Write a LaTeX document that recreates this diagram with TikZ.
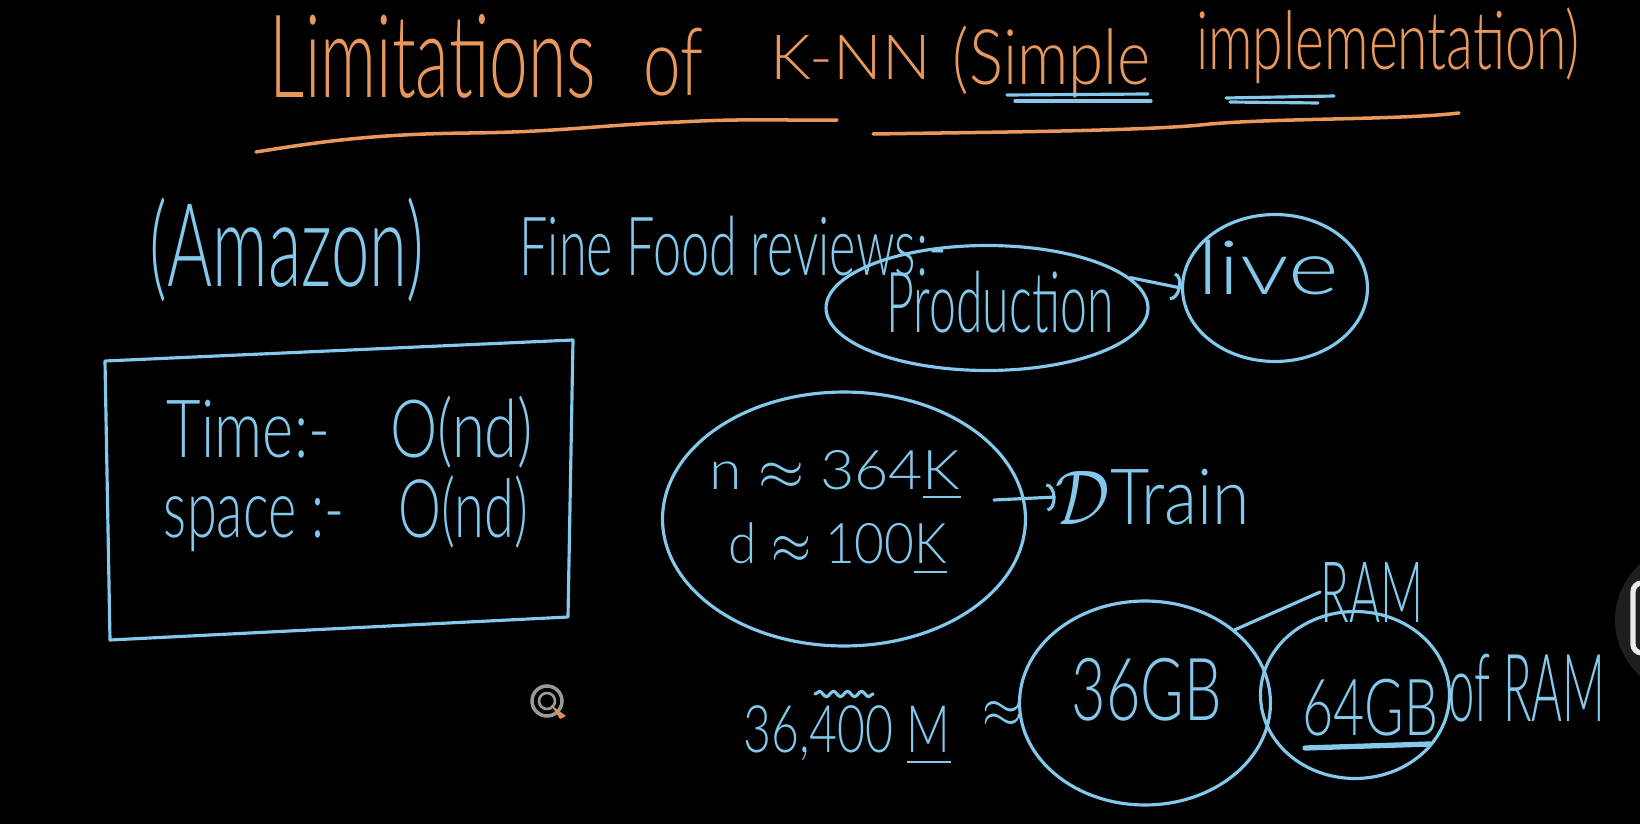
\documentclass[tikz,border=0pt]{standalone}
\usepackage{graphicx}
\usepackage{fontspec}
\setmainfont{Lato Light}
\usetikzlibrary{shapes.geometric,arrows.meta,decorations.pathmorphing}
\definecolor{orng}{RGB}{232,152,92}
\definecolor{blu}{RGB}{132,200,236}
\newlength\pxu
\setlength\pxu{0.02cm}
% width and total height, in px of the 1640x824 canvas
\newcommand\fitwh[3]{\resizebox*{#1\pxu}{#2\pxu}{#3}}
\tikzset{
  txt/.style={text=blu, inner sep=0pt},
  ttxt/.style={text=orng, inner sep=0pt},
  bline/.style={draw=blu, line width=1.8pt, line cap=round, line join=round},
  oline/.style={draw=orng, line width=2pt, line cap=round, line join=round},
  ell/.style={ellipse, draw=blu, line width=1.8pt, inner sep=0pt},
  barr/.style={bline, -{Arc Barb[length=5pt,width=16pt]}},
}
\begin{document}
\begin{tikzpicture}[x=0.02cm,y=-0.02cm]
\clip (0,0) rectangle (1640,824);
\fill[black] (0,0) rectangle (1640,824);
\useasboundingbox (0,0) rectangle (1640,824);

% title
\node[ttxt] (t1) at (433,56) {\fitwh{326}{84}{Limitations}};
\node[ttxt] (t2) at (673,62) {\fitwh{60}{68}{of}};
\node[ttxt] (t3) at (851,58) {\fitwh{160}{44}{K-NN}};
\node[ttxt] (t4) at (1052,62) {\fitwh{198}{72}{(Simple}};
\node[ttxt] (t5) at (1388,46) {\fitwh{384}{76}{implementation)}};
\draw[oline] (256,152) .. controls (330,140) and (380,134) .. (470,133) .. controls (560,132) and (600,125) .. (680,122) .. controls (750,118) and (800,121) .. (837,120);
\draw[oline] (873,134) .. controls (1000,132) and (1150,131) .. (1210,124) .. controls (1280,118) and (1400,120) .. (1459,113);
\draw[bline] (1007,95) -- (1148,94);
\draw[bline] (1015,101) -- (1151,101);
\draw[bline] (1226,98) -- (1334,96);
\draw[bline] (1230,102) -- (1318,103);

% top row
\node[txt] (amazon) at (287,250) {\fitwh{274}{104}{(Amazon)}};
\node[txt] (ffr) at (733,246) {\fitwh{427}{60}{Fine Food reviews:-}};
\node[ell, minimum width=6.44cm, minimum height=2.5cm] (prod) at (987,308) {};
\node[txt] (prodt) at (1000,302) {\fitwh{227}{62}{Production}};
\node[ell, minimum width=3.7cm, minimum height=2.94cm] (live) at (1275,288) {};
\node[txt] (livet) at (1268,267) {\fitwh{141}{55}{live}};
\draw[barr] (prod.12) -- (live.west);

% box
\draw[bline] (105,361) -- (573,340) -- (568,617) -- (110,640) -- cycle;
\node[txt] (time) at (350,432) {\fitwh{366}{72}{Time:-\quad O(nd)}};
\node[txt] (space) at (346,514) {\fitwh{364}{76}{space :-\quad O(nd)}};

% n, d
\node[ell, minimum width=7.26cm, minimum height=5.08cm] (nell) at (844,519) {};
\node[txt] (nrow) at (835,475) {\fitwh{251}{50}{n $\approx$ 364\underline{K}}};
\node[txt] (drow) at (838,549) {\fitwh{218}{52}{d $\approx$ 100\underline{K}}};
\node[txt] (dtrain) at (1153,497) {\fitwh{194}{56}{$\mathcal{D}$Train}};
\coordinate (tstart) at (994,500);
\draw[barr] (tstart) -- (dtrain.west);

% memory
\node[ell, minimum width=5.02cm, minimum height=4.08cm] (gb36) at (1145,703) {};
\node[txt] (gb36t) at (1147,690) {\fitwh{150}{63}{36GB}};
\node[ell, minimum width=3.78cm, minimum height=3.34cm] (gb64) at (1355,695) {};
\node[txt] (gb64t) at (1370,708) {\fitwh{136}{57}{64GB}};
\draw[bline, line width=3pt] (1305,748) -- (1430,744);
\node[txt] (ofram) at (1527,688) {\fitwh{157}{68}{of RAM}};
\node[txt] (ram) at (1372,592) {\fitwh{103}{60}{RAM}};
\draw[bline] (gb36.north east) -- (ram.west);
\node[txt] (m) at (847,736) {\fitwh{207}{60}{36,400 \underline{M}}};
\draw[bline, decorate, decoration={snake, amplitude=1.5pt, segment length=8pt}] (815,694) -- (873,694);
\node[txt] (approx) at (1002,714) {\fitwh{40}{26}{$\approx$}};

% screen artefacts
\draw[gray!80, line width=2pt] (547,701) circle (15);
\draw[gray!80, line width=1.5pt] (547,701) circle (8);
\fill[orng!70!brown] (551,705) -- (566,716) -- (560,719) -- cycle;
\fill[black!88!white] (1690,620) circle (75);
\draw[white!85!gray, line width=3pt, rounded corners=5pt] (1655,583) -- (1633,583) -- (1633,653) -- (1655,653);
\end{tikzpicture}
\end{document}
